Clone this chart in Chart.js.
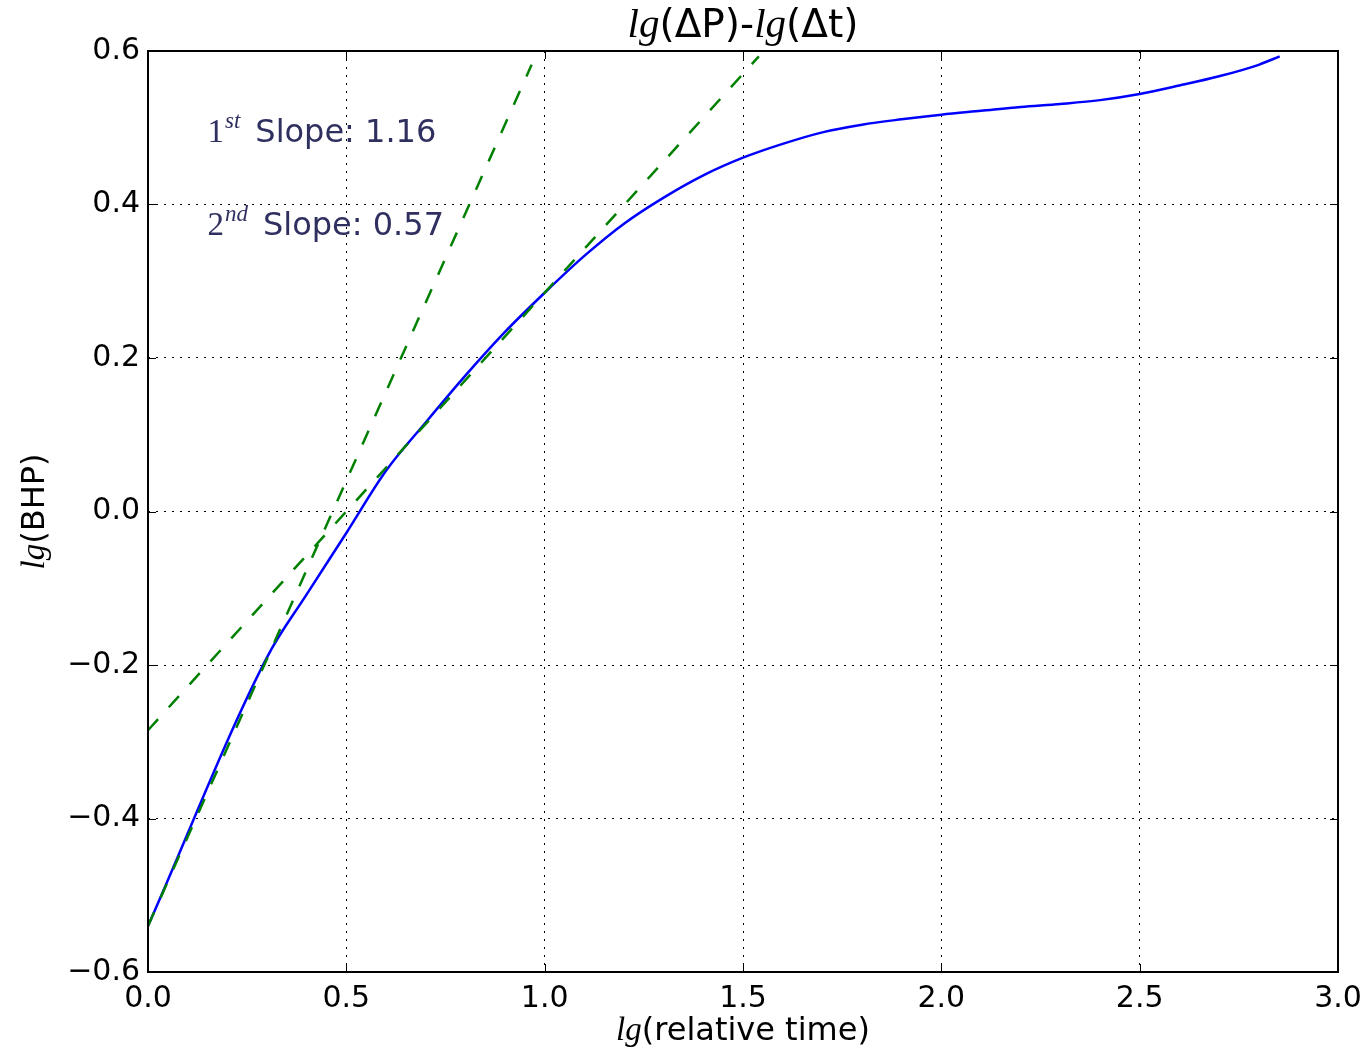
<!DOCTYPE html>
<html>
<head>
<meta charset="utf-8">
<script src="https://cdn.jsdelivr.net/npm/chart.js@4/dist/chart.umd.min.js"></script>
<style>
html,body{margin:0;padding:0;background:#fff;}
#wrap{width:1371px;height:1055px;position:relative;}
canvas{display:block;}
</style>
</head>
<body>
<div id="wrap"><canvas id="c" width="1371" height="1055" style="width:1371px;height:1055px;"></canvas></div>
<script>
// ---- data ----
const curveX = [0, 0.3, 0.4, 0.5, 0.6, 0.7, 0.8, 0.9, 1.0, 1.1, 1.2, 1.3, 1.4, 1.5, 1.6, 1.7, 1.8, 1.9, 2.0, 2.1, 2.2, 2.3, 2.4, 2.5, 2.6, 2.7, 2.8, 2.853];
const curveY = [-0.54, -0.19, -0.108, -0.028, 0.053, 0.116, 0.177, 0.234, 0.285, 0.333, 0.375, 0.409, 0.438, 0.461, 0.479, 0.494, 0.504, 0.511, 0.517, 0.522, 0.527, 0.531, 0.536, 0.544, 0.555, 0.567, 0.582, 0.593];
const slope1X = [0, 0.967];
const slope1Y = [-0.54, 0.582];
const slope2X = [0, 1.54];
const slope2Y = [-0.285, 0.593];
const xTickValues = [0, 0.5, 1.0, 1.5, 2.0, 2.5, 3.0];
const xTickLabels = ['0.0', '0.5', '1.0', '1.5', '2.0', '2.5', '3.0'];
const yTickValues = [-0.6, -0.4, -0.2, 0.0, 0.2, 0.4, 0.6];
const yTickLabels = ['\u22120.6', '\u22120.4', '\u22120.2', '0.0', '0.2', '0.4', '0.6'];
const titleParts = [['lg', 'tmath'], ['(\u0394P)-', 'tsans'], ['lg', 'tmath'], ['(\u0394t)', 'tsans']];
const xLabelParts = [['lg', 'math'], ['(relative time)', 'sans']];
const yLabelParts = [['lg', 'math'], ['(BHP)', 'sans']];
const annotNumbers = ['1', '2'];
const annotSups = ['st', 'nd'];
const annotTexts = ['Slope: 1.16', 'Slope: 0.57'];
const annotAnchorX = [0.15, 0.15];
const annotAnchorY = [0.482, 0.36];

// ---- styles ----
const SANS = '"DejaVu Sans", sans-serif';
const SERIF = '"Liberation Serif", "DejaVu Serif", serif';
const fonts = {
  sans: '32px ' + SANS,
  math: 'italic 33px ' + SERIF,
  tsans: '39px ' + SANS,
  tmath: 'italic 41px ' + SERIF
};

function toPts(xs, ys) { return xs.map((x, i) => ({x: x, y: ys[i]})); }

function drawParts(ctx, parts, x, y, align) {
  let total = 0;
  parts.forEach(p => { ctx.font = fonts[p[1]]; total += ctx.measureText(p[0]).width; });
  let cx = align === 'center' ? x - total / 2 : x;
  ctx.textAlign = 'left';
  ctx.textBaseline = 'alphabetic';
  parts.forEach(p => { ctx.font = fonts[p[1]]; ctx.fillText(p[0], cx, y); cx += ctx.measureText(p[0]).width; });
}

const decorPlugin = {
  id: 'decor',
  afterDatasetsDraw(chart) {
    const ctx = chart.ctx;
    const a = chart.chartArea;
    const xs = chart.scales.x, ys = chart.scales.y;
    ctx.save();
    ctx.strokeStyle = '#000';
    ctx.lineWidth = 1;
    ctx.beginPath();
    xTickValues.forEach(v => {
      const px = Math.round(xs.getPixelForValue(v)) + 0.5;
      ctx.moveTo(px, a.bottom); ctx.lineTo(px, a.bottom - 8);
      ctx.moveTo(px, a.top); ctx.lineTo(px, a.top + 8);
    });
    yTickValues.forEach(v => {
      const py = Math.round(ys.getPixelForValue(v)) + 0.5;
      ctx.moveTo(a.left, py); ctx.lineTo(a.left + 8, py);
      ctx.moveTo(a.right, py); ctx.lineTo(a.right - 8, py);
    });
    ctx.stroke();
    ctx.lineWidth = 2;
    ctx.strokeRect(a.left, a.top, a.right - a.left, a.bottom - a.top);
    ctx.fillStyle = '#303060';
    annotNumbers.forEach((n, i) => {
      const px = xs.getPixelForValue(annotAnchorX[i]);
      const py = ys.getPixelForValue(annotAnchorY[i]);
      ctx.textAlign = 'left';
      ctx.textBaseline = 'alphabetic';
      ctx.font = '33px ' + SERIF;
      ctx.fillText(n, px, py);
      let cx = px + ctx.measureText(n).width + 1;
      ctx.font = 'italic 23px ' + SERIF;
      ctx.fillText(annotSups[i], cx, py - 14);
      cx += ctx.measureText(annotSups[i]).width + 15;
      ctx.font = '32px ' + SANS;
      ctx.fillText(annotTexts[i], cx, py);
    });
    ctx.fillStyle = '#000';
    const midX = (a.left + a.right) / 2;
    drawParts(ctx, titleParts, midX, 37, 'center');
    drawParts(ctx, xLabelParts, midX, 1040, 'center');
    ctx.save();
    ctx.translate(44, (a.top + a.bottom) / 2);
    ctx.rotate(-Math.PI / 2);
    drawParts(ctx, yLabelParts, 0, 0, 'center');
    ctx.restore();
    ctx.restore();
  }
};

const chart = new Chart(document.getElementById('c'), {
  type: 'scatter',
  data: {
    datasets: [
      {
        data: toPts(curveX, curveY),
        showLine: true,
        borderColor: '#0000ff',
        borderWidth: 2.5,
        pointRadius: 0,
        cubicInterpolationMode: 'monotone',
        order: 2
      },
      {
        data: toPts(slope1X, slope1Y),
        showLine: true,
        borderColor: '#008000',
        borderWidth: 2.5,
        borderDash: [15, 16],
        pointRadius: 0,
        order: 1
      },
      {
        data: toPts(slope2X, slope2Y),
        showLine: true,
        borderColor: '#008000',
        borderWidth: 2.5,
        borderDash: [15, 16],
        pointRadius: 0,
        order: 0
      }
    ]
  },
  options: {
    responsive: false,
    maintainAspectRatio: false,
    animation: false,
    devicePixelRatio: 1,
    layout: { padding: { left: 0, top: 51, right: 33, bottom: 0 } },
    plugins: { legend: { display: false }, tooltip: { enabled: false }, title: { display: false } },
    scales: {
      x: {
        type: 'linear',
        min: 0, max: 3,
        afterBuildTicks: s => { s.ticks = xTickValues.map(v => ({value: v})); },
        afterFit: s => { s.height = 83; },
        ticks: {
          color: '#000',
          font: { family: SANS, size: 30 },
          padding: 9,
          maxRotation: 0,
          callback: (v) => { const i = xTickValues.findIndex(t => Math.abs(t - v) < 1e-9); return i >= 0 ? xTickLabels[i] : ''; }
        },
        grid: { color: '#000', lineWidth: 1, drawTicks: false },
        border: { display: false, dash: [2, 6] }
      },
      y: {
        type: 'linear',
        min: -0.6, max: 0.6,
        afterBuildTicks: s => { s.ticks = yTickValues.map(v => ({value: v})); },
        afterFit: s => { s.width = 148; },
        ticks: {
          color: '#000',
          font: { family: SANS, size: 30 },
          padding: 8,
          callback: (v) => { const i = yTickValues.findIndex(t => Math.abs(t - v) < 1e-9); return i >= 0 ? yTickLabels[i] : ''; }
        },
        grid: { color: '#000', lineWidth: 1, drawTicks: false },
        border: { display: false, dash: [2, 6] }
      }
    }
  },
  plugins: [decorPlugin]
});
</script>
</body>
</html>
